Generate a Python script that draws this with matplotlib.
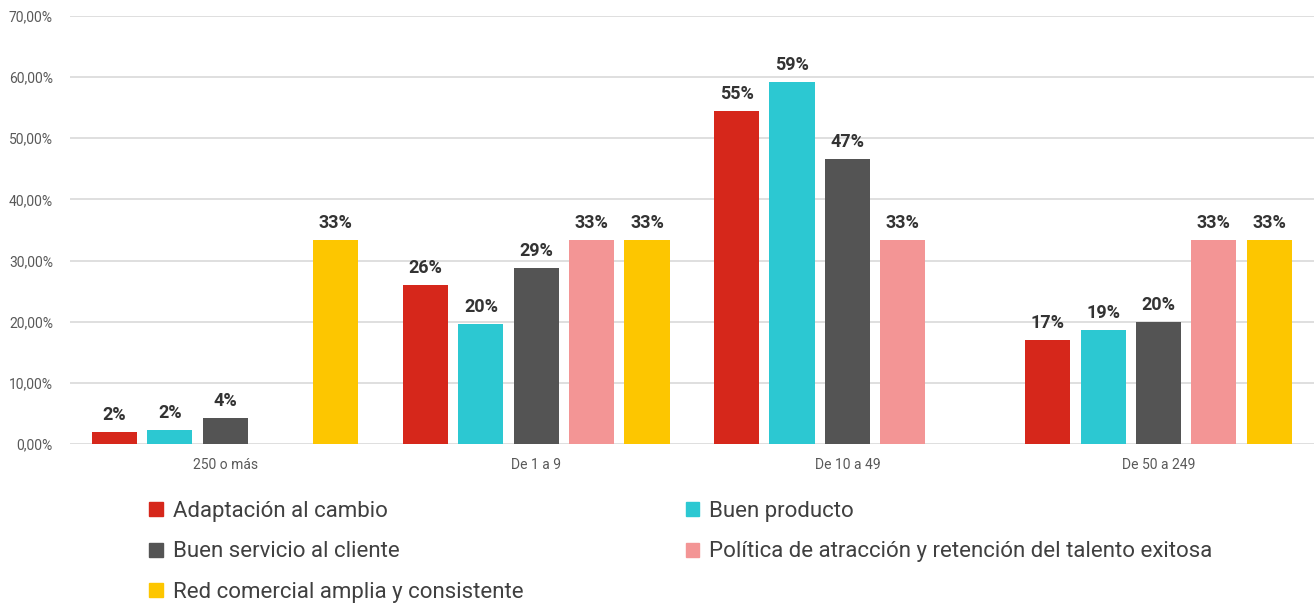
import numpy as np
import matplotlib.pyplot as plt
import matplotlib.patches as patches
from matplotlib.ticker import FuncFormatter

plt.rcParams['font.family'] = ['Roboto', 'DejaVu Sans']

# tamaño de empresa
categories = ['250 o más', 'De 1 a 9', 'De 10 a 49', 'De 50 a 249']

series_names = [
    'Adaptación al cambio',
    'Buen producto',
    'Buen servicio al cliente',
    'Política de atracción y retención del talento exitosa',
    'Red comercial amplia y consistente',
]

# porcentajes por serie (None = sin dato)
adaptacion = [0.0200, 0.2600, 0.5450, 0.1700]
producto = [0.0230, 0.1960, 0.5920, 0.1870]
servicio = [0.0430, 0.2880, 0.4660, 0.2000]
talento = [None, 0.3333, 0.3333, 0.3333]
red_comercial = [0.3333, 0.3333, None, 0.3333]

series = [adaptacion, producto, servicio, talento, red_comercial]
colors = ['#D6271B', '#2CC8D2', '#545454', '#F39595', '#FDC600']

fig = plt.figure(figsize=(13.14, 6.03), dpi=100)
ax = fig.add_axes([0.053, 0.2637, 0.947, 0.7098])

x = np.arange(len(categories))
slot = 0.178
width = 0.145

for i, (vals, col) in enumerate(zip(series, colors)):
    offset = (i - 2) * slot
    for j, v in enumerate(vals):
        if v is None:
            continue
        ax.bar(x[j] + offset, v, width=width, color=col, zorder=3)
        ax.text(x[j] + offset, v + 0.013, f'{v * 100:.0f}%', ha='center', va='bottom',
                fontsize=13, fontweight='bold', color='#333333', zorder=4)

ax.set_xlim(-0.5, 3.5)
ax.set_ylim(0, 0.70)
ax.set_yticks(np.arange(0, 0.71, 0.10))
ax.yaxis.set_major_formatter(FuncFormatter(lambda v, p: f'{v * 100:.2f}%'.replace('.', ',')))
ax.set_xticks(x)
ax.set_xticklabels(categories)
ax.tick_params(axis='both', length=0, labelsize=10, labelcolor='#595959')
ax.tick_params(axis='x', pad=10)
ax.tick_params(axis='y', pad=12)
ax.grid(axis='y', color='#DCDCDC', linewidth=1.3, zorder=0)
for s in ax.spines.values():
    s.set_visible(False)

handles = [patches.Patch(color=c) for c in colors]
order = [0, 2, 4, 1, 3]
fig.legend([handles[k] for k in order], [series_names[k] for k in order],
           loc='upper left', bbox_to_anchor=(0.107, 0.184),
           ncol=2, frameon=False, fontsize=16, labelcolor='#404040',
           handlelength=0.6, handleheight=0.6, handletextpad=0.45,
           columnspacing=7.3, labelspacing=0.88, borderaxespad=0)

fig.savefig('out.png', dpi=100)
